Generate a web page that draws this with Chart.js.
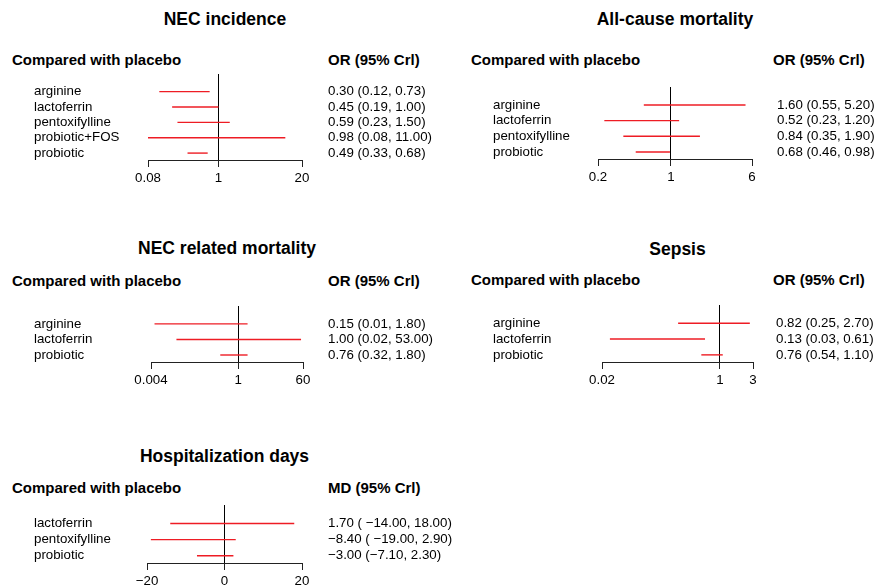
<!DOCTYPE html>
<html>
<head>
<meta charset="utf-8">
<title>Forest plots</title>
<script src="https://cdn.jsdelivr.net/npm/chart.js"></script>
<style>
  body {
    margin: 0;
    background: #fff;
    width: 876px;
    height: 588px;
    overflow: hidden;
    position: relative;
    font-family: "Liberation Sans", Arial, sans-serif;
    color: #000;
  }
  .title {
    position: absolute;
    font-weight: bold;
    font-size: 17.5px;
    line-height: 20px;
    width: 300px;
    text-align: center;
    white-space: nowrap;
  }
  .head {
    position: absolute;
    font-weight: bold;
    font-size: 15px;
    line-height: 18px;
    white-space: nowrap;
  }
  canvas { position: absolute; }
</style>
</head>
<body>
<script>
// NEC incidence
var necNames = ["arginine", "lactoferrin", "pentoxifylline", "probiotic+FOS", "probiotic"];
var necEst = [0.30, 0.45, 0.59, 0.98, 0.49];
var necLo = [0.12, 0.19, 0.23, 0.08, 0.33];
var necHi = [0.73, 1.00, 1.50, 11.00, 0.68];
var necTicks = [0.08, 1, 20];
var necTickLabels = ["0.08", "1", "20"];

// All-cause mortality
var mortNames = ["arginine", "lactoferrin", "pentoxifylline", "probiotic"];
var mortEst = [1.60, 0.52, 0.84, 0.68];
var mortLo = [0.55, 0.23, 0.35, 0.46];
var mortHi = [5.20, 1.20, 1.90, 0.98];
var mortTicks = [0.2, 1, 6];
var mortTickLabels = ["0.2", "1", "6"];

// NEC related mortality
var necMortNames = ["arginine", "lactoferrin", "probiotic"];
var necMortEst = [0.15, 1.00, 0.76];
var necMortLo = [0.005, 0.02, 0.32];
var necMortHi = [1.80, 53.00, 1.80];
var necMortTicks = [0.004, 1, 60];
var necMortTickLabels = ["0.004", "1", "60"];

// Sepsis
var sepsisNames = ["arginine", "lactoferrin", "probiotic"];
var sepsisEst = [0.82, 0.13, 0.76];
var sepsisLo = [0.25, 0.026, 0.54];
var sepsisHi = [2.70, 0.61, 1.10];
var sepsisTicks = [0.02, 1, 3];
var sepsisTickLabels = ["0.02", "1", "3"];

// Hospitalization days (mean difference)
var hospNames = ["lactoferrin", "pentoxifylline", "probiotic"];
var hospEst = [1.70, -8.40, -3.00];
var hospLo = [-14.00, -19.00, -7.10];
var hospHi = [18.00, 2.90, 2.30];
var hospTicks = [-20, 0, 20];
var hospTickLabels = ["\u221220", "0", "20"];

var RED = "#ee1c24";
Chart.defaults.font.family = '"Liberation Sans", Arial, sans-serif';
Chart.defaults.font.size = 13.3;
Chart.defaults.color = "#000";

function fmt(v) {
  return (v < 0 ? "\u2212" : "") + Math.abs(v).toFixed(2);
}
function ciText(m, lo, hi) {
  return fmt(m) + " (" + (lo <= -10 ? " " : "") + fmt(lo) + ", " + fmt(hi) + ")";
}

function addText(cls, text, x, y) {
  var d = document.createElement("div");
  d.className = cls;
  d.textContent = text;
  d.style.left = x + "px";
  d.style.top = y + "px";
  document.body.appendChild(d);
}

// axis padding from tick labels would shrink the plot area, drop it
function noPad(a) {
  a.paddingTop = 0;
  a.paddingBottom = 0;
  a.paddingLeft = 0;
  a.paddingRight = 0;
}

function drawPanel(p) {
  var n = p.names.length;
  var rows = p.names.map(function (_, i) { return i + 1; });
  var texts = p.est.map(function (m, i) { return ciText(m, p.lo[i], p.hi[i]); });
  var rightW = p.valuesX - p.plotR + 135;
  var cv = document.createElement("canvas");
  cv.width = Math.round(p.plotR - p.namesX + rightW);
  cv.height = Math.round(2 + (p.bottom - p.top) + 26);
  cv.style.left = p.namesX + "px";
  cv.style.top = (p.top - 2) + "px";
  document.body.appendChild(cv);

  // titles and headers
  addText("title", p.title, (p.plotL + p.plotR) / 2 - 150, p.titleY - 10);
  addText("head", "Compared with placebo", p.headX, p.headY - 9);
  addText("head", p.measure + " (95% Crl)", p.measureX, p.headY - 9);

  new Chart(cv, {
    type: "scatter",
    data: {
      datasets: p.lo.map(function (lo, i) {
        return {
          data: [{ x: lo, y: i + 1 }, { x: p.hi[i], y: i + 1 }],
          showLine: true,
          borderColor: RED,
          borderWidth: 1.4,
          pointRadius: 0
        };
      })
    },
    options: {
      responsive: false,
      animation: false,
      events: [],
      layout: { padding: { top: 2, left: 0, right: 0, bottom: 0 } },
      plugins: { legend: { display: false }, tooltip: { enabled: false } },
      scales: {
        x: {
          type: p.log ? "logarithmic" : "linear",
          min: p.ticks[0],
          max: p.ticks[2],
          afterBuildTicks: function (a) {
            a.ticks = p.ticks.map(function (v) { return { value: v }; });
          },
          afterFit: function (a) { a.height = 26; noPad(a); },
          ticks: {
            autoSkip: false,
            maxRotation: 0,
            padding: 3,
            callback: function (v, i) { return p.tickLabels[i]; }
          },
          grid: {
            color: function (c) {
              return c.tick && c.tick.value === p.ticks[1] ? "#000" : "rgba(0,0,0,0)";
            },
            tickColor: "#222",
            tickLength: 7,
            lineWidth: 1
          },
          border: { display: true, color: "#222", width: 1 }
        },
        y: {
          type: "linear",
          reverse: true,
          min: -0.15,
          max: n + 0.45,
          position: "left",
          afterBuildTicks: function (a) {
            a.ticks = rows.map(function (v) { return { value: v }; });
          },
          afterFit: function (a) { a.width = p.plotL - p.namesX; noPad(a); },
          ticks: {
            autoSkip: false,
            crossAlign: "far",
            padding: 0,
            callback: function (v, i) { return p.names[i]; }
          },
          grid: { display: false, drawTicks: false },
          border: { display: false }
        },
        y2: {
          type: "linear",
          reverse: true,
          min: -0.15,
          max: n + 0.45,
          position: "right",
          afterBuildTicks: function (a) {
            a.ticks = rows.map(function (v) { return { value: v }; });
          },
          afterFit: function (a) { a.width = rightW; noPad(a); },
          ticks: {
            autoSkip: false,
            crossAlign: "near",
            padding: p.valuesX - p.plotR,
            callback: function (v, i) { return texts[i]; }
          },
          grid: { display: false, drawTicks: false },
          border: { display: false }
        }
      }
    }
  });
}

drawPanel({
  title: "NEC incidence", measure: "OR", log: true,
  names: necNames, est: necEst, lo: necLo, hi: necHi,
  ticks: necTicks, tickLabels: necTickLabels,
  namesX: 34, plotL: 148, plotR: 302, valuesX: 328, top: 74, bottom: 160,
  titleY: 19, headY: 60, headX: 12, measureX: 328
});
drawPanel({
  title: "All-cause mortality", measure: "OR", log: true,
  names: mortNames, est: mortEst, lo: mortLo, hi: mortHi,
  ticks: mortTicks, tickLabels: mortTickLabels,
  namesX: 493, plotL: 598, plotR: 752, valuesX: 777, top: 87, bottom: 159,
  titleY: 19, headY: 60, headX: 471, measureX: 773
});
drawPanel({
  title: "NEC related mortality", measure: "OR", log: true,
  names: necMortNames, est: necMortEst, lo: necMortLo, hi: necMortHi,
  ticks: necMortTicks, tickLabels: necMortTickLabels,
  namesX: 34, plotL: 151, plotR: 303, valuesX: 328, top: 306, bottom: 362,
  titleY: 248, headY: 281, headX: 12, measureX: 328
});
drawPanel({
  title: "Sepsis", measure: "OR", log: true,
  names: sepsisNames, est: sepsisEst, lo: sepsisLo, hi: sepsisHi,
  ticks: sepsisTicks, tickLabels: sepsisTickLabels,
  namesX: 493, plotL: 602, plotR: 753, valuesX: 776, top: 305, bottom: 362,
  titleY: 249, headY: 280, headX: 471, measureX: 773
});
drawPanel({
  title: "Hospitalization days", measure: "MD", log: false,
  names: hospNames, est: hospEst, lo: hospLo, hi: hospHi,
  ticks: hospTicks, tickLabels: hospTickLabels,
  namesX: 34, plotL: 147, plotR: 302, valuesX: 328, top: 505, bottom: 563,
  titleY: 456, headY: 488, headX: 12, measureX: 328
});
</script>
</body>
</html>
